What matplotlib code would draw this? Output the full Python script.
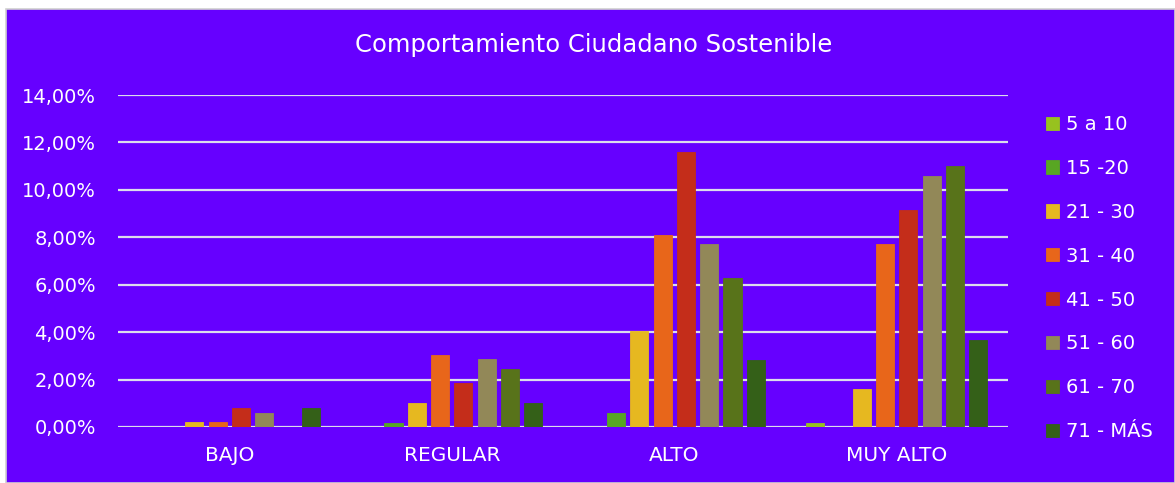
import numpy as np
import matplotlib.pyplot as plt
from matplotlib.patches import Rectangle
from matplotlib.ticker import FuncFormatter

plt.rcParams['font.family'] = ['DejaVu Sans']

categorias = ['BAJO', 'REGULAR', 'ALTO', 'MUY ALTO']
grupos = ['5 a 10', '15 -20', '21 - 30', '31 - 40', '41 - 50', '51 - 60', '61 - 70', '71 - MÁS']

# porcentajes por grupo de edad (un valor por categoría)
v_5_10 = [0.0, 0.0, 0.0, 0.18]
v_15_20 = [0.0, 0.18, 0.6, 0.0]
v_21_30 = [0.2, 1.02, 4.03, 1.62]
v_31_40 = [0.2, 3.05, 8.11, 7.73]
v_41_50 = [0.8, 1.84, 11.58, 9.17]
v_51_60 = [0.61, 2.85, 7.72, 10.58]
v_61_70 = [0.0, 2.44, 6.3, 11.0]
v_71_mas = [0.8, 1.0, 2.83, 3.66]

series = [v_5_10, v_15_20, v_21_30, v_31_40, v_41_50, v_51_60, v_61_70, v_71_mas]
colores = ['#97c21f', '#58a623', '#e6b820', '#e8661a', '#c42d1a', '#928858', '#58731a', '#346018']

fondo = '#6600ff'
blanco = 'white'
rejilla = '#dcdcec'

fig = plt.figure(figsize=(11.75, 4.83), dpi=100)
fig.patch.set_facecolor('white')
# marco del gráfico
fig.patches.append(Rectangle((6 / 1175, 0), 1 - 6 / 1175, 1 - 9 / 483,
                             transform=fig.transFigure, facecolor=fondo,
                             edgecolor='#d0d0d0', linewidth=1.2, zorder=-5))

ax = fig.add_axes([118 / 1175, 1 - 427 / 483, (1008 - 118) / 1175, (427 - 95) / 483])
ax.set_facecolor(fondo)
ax.set_zorder(2)

x = np.arange(len(categorias))
paso = 0.1047
ancho = 0.081
for i, (vals, c, nombre) in enumerate(zip(series, colores, grupos)):
    ax.bar(x + (i - 3.5) * paso, vals, width=ancho, color=c, label=nombre,
           edgecolor=c, linewidth=0.6, zorder=3)

ax.set_xlim(-0.5, 3.5)
ax.set_ylim(0, 14)
ax.set_yticks(np.arange(0, 15, 2))
ax.yaxis.set_major_formatter(FuncFormatter(lambda v, p: f'{v:.2f}%'.replace('.', ',')))
ax.grid(axis='y', color=rejilla, linewidth=1.6, zorder=1)
ax.set_axisbelow(True)
ax.set_xticks(x)
ax.set_xticklabels(categorias)
ax.tick_params(axis='both', length=0, colors=blanco, labelsize=14)
ax.tick_params(axis='x', pad=14, labelsize=14.5)
ax.tick_params(axis='y', pad=16)
for s in ax.spines.values():
    s.set_visible(False)

fig.text(594 / 1175, 1 - 45 / 483, 'Comportamiento Ciudadano Sostenible',
         color=blanco, fontsize=17.5, ha='center', va='center')

ax.legend(loc='upper left', bbox_to_anchor=(1046 / 1175, 1 - 115 / 483),
          bbox_transform=fig.transFigure, frameon=False, fontsize=14,
          labelcolor=blanco, handlelength=0.67, handleheight=0.67,
          handletextpad=0.35, labelspacing=1.28, borderaxespad=0, borderpad=0)

fig.savefig('out.png', dpi=100, facecolor=fig.get_facecolor())
